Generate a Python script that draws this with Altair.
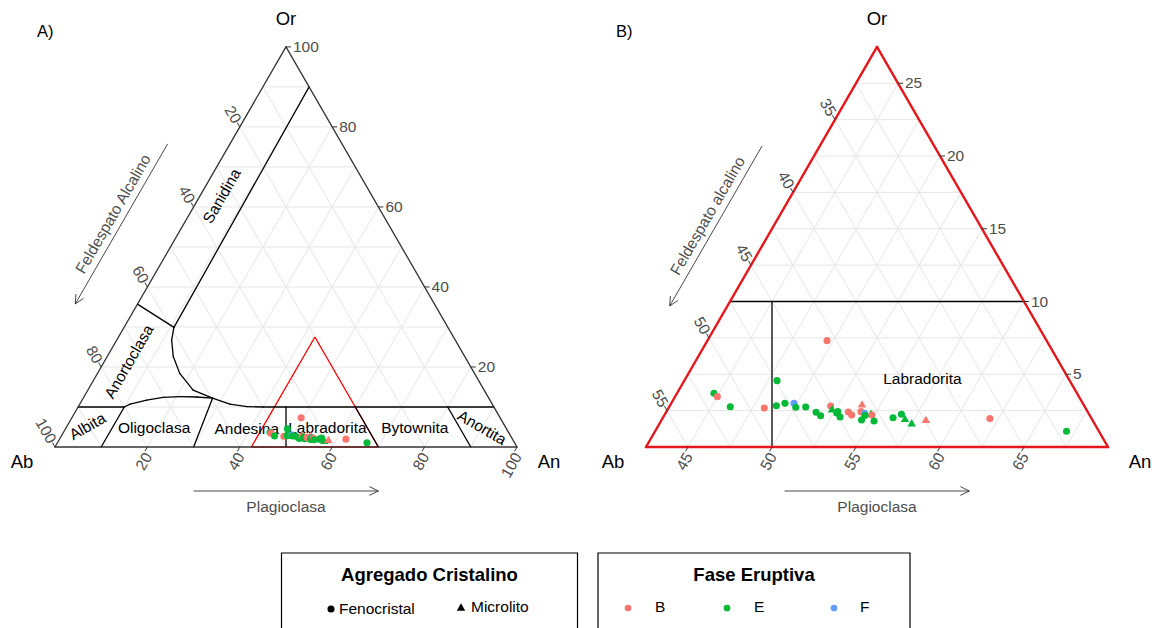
import math
import altair as alt
import pandas as pd

# ---------------- data (Ab, An, Or in %) ----------------
ab_pct = [51.61, 51.52, 51.10, 49.12, 47.42, 48.32, 47.73, 47.19, 47.22, 46.62,
          46.18, 46.03, 45.10, 45.11, 44.98, 44.92, 44.87, 44.25, 44.16, 43.16,
          43.49, 43.33, 43.74, 43.38, 42.95, 42.95, 43.03, 41.79, 41.17, 41.10,
          40.85, 39.89, 36.05, 31.93, 43.07]
an_pct = [44.70, 45.02, 46.13, 48.20, 48.02, 48.84, 49.27, 49.81, 50.05, 50.63,
          51.43, 51.82, 52.08, 52.26, 52.68, 53.02, 52.70, 53.34, 53.64, 53.88,
          54.08, 54.35, 54.40, 54.45, 54.73, 54.85, 55.18, 56.20, 56.58, 56.93,
          57.48, 58.21, 61.99, 66.99, 49.62]
or_pct = [3.69, 3.46, 2.77, 2.68, 4.56, 2.84, 3.00, 3.00, 2.73, 2.75,
          2.39, 2.15, 2.82, 2.63, 2.34, 2.06, 2.43, 2.41, 2.20, 2.96,
          2.43, 2.32, 1.86, 2.17, 2.32, 2.20, 1.79, 2.01, 2.25, 1.97,
          1.67, 1.90, 1.96, 1.08, 7.31]
fase = ["E", "B", "E", "B", "E", "E", "E", "F", "E", "E",
        "E", "E", "B", "E", "E", "E", "E", "B", "B", "B",
        "B", "F", "E", "E", "E", "B", "E", "E", "E", "E",
        "E", "B", "B", "E", "B"]
agregado = ["Fenocristal", "Fenocristal", "Fenocristal", "Fenocristal", "Fenocristal",
            "Fenocristal", "Fenocristal", "Fenocristal", "Fenocristal", "Fenocristal",
            "Fenocristal", "Fenocristal", "Fenocristal", "Microlito", "Fenocristal",
            "Fenocristal", "Fenocristal", "Fenocristal", "Fenocristal", "Microlito",
            "Fenocristal", "Fenocristal", "Fenocristal", "Fenocristal", "Microlito",
            "Fenocristal", "Fenocristal", "Fenocristal", "Fenocristal", "Microlito",
            "Microlito", "Microlito", "Fenocristal", "Fenocristal", "Fenocristal"]

# axis ticks / grid values
ticks_full = [20, 40, 60, 80, 100]
grid_full = [10, 20, 30, 40, 50, 60, 70, 80, 90]
ticks_or_b = [5, 10, 15, 20, 25]
ticks_an_b = [45, 50, 55, 60, 65]
ticks_ab_b = [35, 40, 45, 50, 55]
grid_or_b = [2.5, 5, 7.5, 10, 12.5, 15, 17.5, 20, 22.5, 25]
grid_an_b = [45, 47.5, 50, 52.5, 55, 57.5, 60, 62.5, 65, 67.5]
grid_ab_b = [32.5, 35, 37.5, 40, 42.5, 45, 47.5, 50, 52.5, 55]

# ternary limits (minimum of each component and span)
lim_a = {"L": 0.0, "R": 0.0, "T": 0.0, "D": 100.0}
lim_b = {"L": 30.0, "R": 42.5, "T": 0.0, "D": 27.5}

# feldspar classification boundaries, polylines of (Ab, An, Or)
boundaries = [
    [(90, 0, 10), (80, 10, 10)],
    [(50, 40, 10), (0, 90, 10)],
    [(90, 10, 0), (80, 10, 10)],
    [(70, 30, 0), (59.8, 28, 12.2)],
    [(50, 50, 0), (45, 45, 10)],
    [(30, 70, 0), (30, 60, 10)],
    [(10, 90, 0), (10, 80, 10)],
    [(0, 10, 90), (59.3, 10.8, 29.9)],
    [(64.3, 0, 35.7), (59.3, 10.8, 29.9)],
    [(59.3, 10.8, 29.9), (61.4, 11.9, 26.7), (63.1, 14.3, 22.6), (63.8, 17.8, 18.4),
     (63.0, 22.8, 14.2), (59.8, 28.0, 12.2), (56.8, 32.5, 10.7), (53.4, 36.5, 10.1),
     (50.0, 40.0, 10.0)],
    [(80, 10, 10), (78.4, 10.9, 10.7), (74.3, 14.0, 11.7), (70.4, 17.2, 12.4),
     (66.6, 20.8, 12.6), (63.1, 24.4, 12.5), (59.8, 28.0, 12.2)],
]
zoom_triangle = [(57.5, 42.5, 0), (30, 70, 0), (30, 42.5, 27.5), (57.5, 42.5, 0)]

region_names = ["Sanidina", "Anortoclasa", "Albita", "Oligoclasa", "Andesina",
                "Labradorita", "Bytownita", "Anortita"]
region_comp = [(32.5, 4.8, 62.7), (73.3, 5.4, 21.3), (90.4, 4.5, 5.1), (76.2, 19.1, 4.7),
               (56.3, 39.3, 4.4), (38.7, 56.6, 4.7), (19.75, 75.5, 4.75), (5.2, 90.0, 4.8)]
region_angle = [300, 300, 330, 0, 0, 0, 0, 30]

fase_domain = ["B", "E", "F"]
fase_colors = ["#F8766D", "#00BA38", "#619CFF"]
agr_domain = ["Fenocristal", "Microlito"]
agr_shapes = ["circle", "triangle-up"]

# ---------------- layout constants ----------------
FONT = "Liberation Sans"
S = 462.0            # pixels per triangle side
H3 = math.sqrt(3) / 2
PANEL_H = 540
BASE_Y = 447
PX = 1.0 / S
GRAY = "#4D4D4D"
FS = 15.5

color_scale = alt.Scale(domain=fase_domain, range=fase_colors)
shape_scale = alt.Scale(domain=agr_domain, range=agr_shapes)
size_scale = alt.Scale(domain=agr_domain, range=[50, 72])


def xy(c, lim):
    a, n, o = c
    s = a + n + o
    n, o = 100 * n / s, 100 * o / s
    t = (o - lim["T"]) / lim["D"]
    r = (n - lim["R"]) / lim["D"]
    return r + t / 2, t * H3


def clip(p0, p1, lim):
    mins = (lim["L"], lim["R"], lim["T"])
    s0, s1 = 0.0, 1.0
    for k in range(3):
        f0, f1 = p0[k] - mins[k], p1[k] - mins[k]
        if f0 < -1e-9 and f1 < -1e-9:
            return None
        if f0 < -1e-9:
            s0 = max(s0, f0 / (f0 - f1))
        elif f1 < -1e-9:
            s1 = min(s1, f0 / (f0 - f1))
    if s1 - s0 <= 1e-9:
        return None
    lerp = lambda s: tuple(p0[k] + s * (p1[k] - p0[k]) for k in range(3))
    return lerp(s0), lerp(s1)


def seg_rows(polys, lim):
    rows = []
    for poly in polys:
        for p0, p1 in zip(poly[:-1], poly[1:]):
            c = clip(p0, p1, lim)
            if c is None:
                continue
            (xa, ya), (xb, yb) = xy(c[0], lim), xy(c[1], lim)
            rows.append({"x": xa, "y": ya, "x2": xb, "y2": yb})
    return pd.DataFrame(rows)


def fmt(v):
    return str(int(v)) if float(v).is_integer() else str(v)


def arrow_rows(p0, p1, head=10 * PX, ang=math.radians(26)):
    rows = [{"x": p0[0], "y": p0[1], "x2": p1[0], "y2": p1[1]}]
    dx, dy = p1[0] - p0[0], p1[1] - p0[1]
    L = math.hypot(dx, dy)
    bx, by = -dx / L, -dy / L
    for sg in (1, -1):
        c, s = math.cos(sg * ang), math.sin(sg * ang)
        rx, ry = bx * c - by * s, bx * s + by * c
        rows.append({"x": p1[0], "y": p1[1], "x2": p1[0] + head * rx, "y2": p1[1] + head * ry})
    return rows


def panel(lim, ox, width, tag, feld_text, grid_or, grid_an, grid_ab,
          t_or, t_an, t_ab, outline_color, outline_w, show_zoom, feld_off):
    L, R, T = lim["L"], lim["R"], lim["T"]
    xs = alt.Scale(domain=[-ox / S, (width - ox) / S], nice=False, zero=False)
    ys = alt.Scale(domain=[-(PANEL_H - BASE_Y) / S, BASE_Y / S], nice=False, zero=False)
    X = alt.X("x:Q", scale=xs, axis=None)
    Y = alt.Y("y:Q", scale=ys, axis=None)

    def rules(df, **kw):
        return alt.Chart(df).mark_rule(**kw).encode(x=X, y=Y, x2="x2:Q", y2="y2:Q")

    def texts(df, **kw):
        kw.setdefault("baseline", "middle")
        return alt.Chart(df).mark_text(font=FONT, **kw).encode(x=X, y=Y, text="t:N")

    layers = []
    # grid
    gpolys = []
    for v in grid_or:
        gpolys.append([(100 - v - R, R, v), (L, 100 - v - L, v)])
    for v in grid_an:
        gpolys.append([(100 - v - T, v, T), (L, v, 100 - v - L)])
    for v in grid_ab:
        gpolys.append([(v, 100 - v - T, T), (v, R, 100 - v - R)])
    layers.append(rules(seg_rows(gpolys, lim), color="#E6E6E6", strokeWidth=1))

    if show_zoom:
        layers.append(rules(seg_rows([zoom_triangle], lim), color="#FF0000", strokeWidth=1.3))

    layers.append(rules(seg_rows(boundaries, lim), color="#000000", strokeWidth=1.3, strokeCap="round"))

    # outline
    vL = (100 - R - T, R, T)
    vR = (L, 100 - L - T, T)
    vT = (L, R, 100 - L - R)
    layers.append(rules(seg_rows([[vL, vR, vT, vL]], lim), color=outline_color,
                        strokeWidth=outline_w, strokeCap="round"))

    # ticks and labels
    ticks, lab_or, lab_an, lab_ab = [], [], [], []
    for v in t_or:
        x, y = xy((L, 100 - v - L, v), lim)
        ticks.append({"x": x, "y": y, "x2": x + 5 * PX, "y2": y})
        lab_or.append({"x": x + 7 * PX, "y": y, "t": fmt(v)})
    for v in t_an:
        x, y = xy((100 - v - T, v, T), lim)
        ticks.append({"x": x, "y": y, "x2": x - 2.5 * PX, "y2": y - 5 * H3 * PX})
        lab_an.append({"x": x + 1 * PX, "y": y - 7 * PX, "t": fmt(v)})
    for v in t_ab:
        x, y = xy((v, R, 100 - v - R), lim)
        ticks.append({"x": x, "y": y, "x2": x - 2.5 * PX, "y2": y + 5 * H3 * PX})
        lab_ab.append({"x": x - 2.75 * PX, "y": y + 4.76 * PX, "t": fmt(v)})
    layers.append(rules(pd.DataFrame(ticks), color="#333333", strokeWidth=1))
    layers.append(texts(pd.DataFrame(lab_or), align="left", fontSize=FS, color=GRAY))
    layers.append(texts(pd.DataFrame(lab_an), align="right", angle=300, fontSize=FS, color=GRAY))
    layers.append(texts(pd.DataFrame(lab_ab), align="right", angle=60, fontSize=FS, color=GRAY))

    # vertex titles
    vt = pd.DataFrame([
        {"x": 0.5, "y": H3 + 27.5 * PX, "t": "Or"},
        {"x": -33 * PX, "y": -15 * PX, "t": "Ab"},
        {"x": 1 + 32 * PX, "y": -15 * PX, "t": "An"},
    ])
    layers.append(texts(vt, align="center", fontSize=18.5, color="#000000"))

    # arrows
    base_off = -44 * PX
    arr = arrow_rows((0.3, base_off), (0.7, base_off))
    nx, ny = -H3, 0.5
    e = lambda f, d: (0.5 * f + nx * d * PX, H3 * f + ny * d * PX)
    arr += arrow_rows(e(0.69, feld_off), e(0.29, feld_off))
    layers.append(rules(pd.DataFrame(arr), color="#333333", strokeWidth=0.9))
    layers.append(texts(pd.DataFrame([{"x": 0.5, "y": -60 * PX, "t": "Plagioclasa"}]),
                        align="center", fontSize=FS, color=GRAY))
    fx, fy = e(0.5, feld_off + 12)
    layers.append(texts(pd.DataFrame([{"x": fx, "y": fy, "t": feld_text}]),
                        align="center", angle=300, fontSize=FS, color=GRAY))

    # region names
    for name, comp, ang in zip(region_names, region_comp, region_angle):
        if comp[0] >= L and comp[1] >= R and comp[2] >= T:
            x, y = xy(comp, lim)
            layers.append(texts(pd.DataFrame([{"x": x, "y": y, "t": name}]),
                                align="center", angle=ang, fontSize=FS, color="#000000"))

    # data points
    pts = []
    for a, n, o, f, g in zip(ab_pct, an_pct, or_pct, fase, agregado):
        x, y = xy((a, n, o), lim)
        pts.append({"x": x, "y": y, "Fase": f, "Agregado": g, "Ab": a, "An": n, "Or": o})
    layers.append(
        alt.Chart(pd.DataFrame(pts)).mark_point(filled=True, opacity=1).encode(
            x=X, y=Y,
            color=alt.Color("Fase:N", scale=color_scale, legend=None),
            shape=alt.Shape("Agregado:N", scale=shape_scale, legend=None),
            size=alt.Size("Agregado:N", scale=size_scale, legend=None),
        )
    )

    # panel tag
    layers.append(texts(pd.DataFrame([{"x": (37 - ox) * PX, "y": (BASE_Y - 32) * PX, "t": tag}]),
                        align="left", fontSize=16.5, color="#000000"))

    return alt.layer(*layers).properties(width=width, height=PANEL_H)


panel_a = panel(lim_a, 55, 579, "A)", "Feldespato Alcalino", grid_full, grid_full, grid_full,
                ticks_full, ticks_full, ticks_full, "#333333", 1.3, True, 54)
panel_b = panel(lim_b, 67, 580, "B)", "Feldespato alcalino", grid_or_b, grid_an_b, grid_ab_b,
                ticks_or_b, ticks_an_b, ticks_ab_b, "#E8161B", 2.4, False, 50)

# ---------------- legend (drawn below, page coordinates) ----------------
LEG_H = 628 - PANEL_H
LX = alt.Scale(domain=[0, 1159], nice=False, zero=False)
LY = alt.Scale(domain=[PANEL_H, 628], nice=False, zero=False, reverse=True)
lx = alt.X("x:Q", scale=LX, axis=None)
ly = alt.Y("y:Q", scale=LY, axis=None)

boxes = pd.DataFrame({"x": [281.5, 598.0], "x2": [577.5, 910.0], "y": [553.0, 553.0], "y2": [660.0, 660.0]})
box_layer = alt.Chart(boxes).mark_rect(fill="white", fillOpacity=0, stroke="#000000",
                                       strokeWidth=1.2, clip=True).encode(
    x=lx, y=ly, x2="x2:Q", y2="y2:Q")
titles = pd.DataFrame({"x": [429.5, 754.0], "y": [575.0, 575.0],
                       "t": ["Agregado Cristalino", "Fase Eruptiva"]})
title_layer = alt.Chart(titles).mark_text(font=FONT, fontSize=18.5, fontWeight="bold",
                                          baseline="middle", align="center", color="#000000").encode(
    x=lx, y=ly, text="t:N")
agr_items = pd.DataFrame({"x": [331.0, 461.0], "y": [609.0, 607.0], "Agregado": agr_domain})
agr_sym = alt.Chart(agr_items).mark_point(filled=True, opacity=1, color="#000000").encode(
    x=lx, y=ly, shape=alt.Shape("Agregado:N", scale=shape_scale, legend=None),
    size=alt.Size("Agregado:N", scale=alt.Scale(domain=agr_domain, range=[24, 40]), legend=None))
agr_lab = alt.Chart(pd.DataFrame({"x": [339.0, 471.0], "y": [609.0, 607.0], "t": agr_domain})).mark_text(
    font=FONT, fontSize=FS, align="left", baseline="middle", color="#000000").encode(x=lx, y=ly, text="t:N")
fase_items = pd.DataFrame({"x": [628.0, 727.0, 834.0], "y": [608.0, 608.0, 608.0], "Fase": fase_domain})
fase_sym = alt.Chart(fase_items).mark_point(filled=True, opacity=1, size=45, shape="circle").encode(
    x=lx, y=ly, color=alt.Color("Fase:N", scale=color_scale, legend=None))
fase_lab = alt.Chart(pd.DataFrame({"x": [655.0, 754.0, 860.0], "y": [607.0, 607.0, 607.0],
                                   "t": fase_domain})).mark_text(
    font=FONT, fontSize=FS, align="left", baseline="middle", color="#000000").encode(x=lx, y=ly, text="t:N")

legend = alt.layer(box_layer, title_layer, agr_sym, agr_lab, fase_sym, fase_lab).properties(
    width=1159, height=LEG_H)

top = alt.hconcat(panel_a, panel_b, spacing=0, bounds="flush")
chart = alt.vconcat(top, legend, spacing=0).properties(padding=0).configure_view(stroke=None)

chart.save("out.html", embed_options={"renderer": "svg", "actions": False})
